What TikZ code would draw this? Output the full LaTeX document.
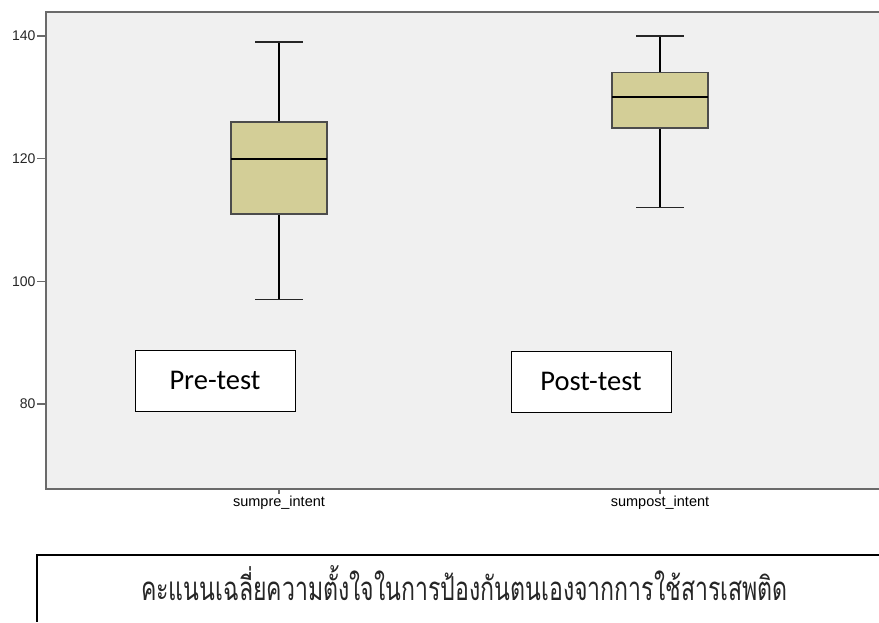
\documentclass[tikz,border=0pt]{standalone}
\usepackage{fontspec}
\setmainfont{Liberation Sans}
\newfontfamily\calfont{Carlito}
\newfontfamily\thaifont[Script=Thai]{Loma}
\usetikzlibrary{calc}
\definecolor{plotbg}{HTML}{F0F0F0}
\definecolor{boxfill}{HTML}{D3CE97}
\definecolor{framec}{HTML}{6A6A6A}
\tikzset{
  boxst/.style={fill=boxfill, draw=black!70, line width=1.3pt},
  whisk/.style={draw=black, line width=1.8pt},
  med/.style={draw=black, line width=2pt},
  capst/.style={draw=black!85, line width=1.4pt},
  labbox/.style={draw=black, fill=white, line width=1pt, minimum width=160pt, minimum height=61pt, font=\calfont\fontsize{28.5}{32}\selectfont},
  ticklab/.style={anchor=east, font=\fontsize{14}{16}\selectfont, inner sep=1pt},
  xlab/.style={anchor=north, font=\fontsize{14.5}{16}\selectfont, inner sep=1pt}
}
\begin{document}
\begin{tikzpicture}[x=1pt,y=-1pt]
\useasboundingbox (0,0) rectangle (879,622);
\fill[white] (0,0) rectangle (879,622);
% plot area
\fill[plotbg] (46,12) rectangle (879,489);
\draw[framec, line width=1.2pt] (879,12) -- (46,12) -- (46,489) -- (879,489);
% y ticks
\foreach \v/\yy in {140/36,120/158.7,100/281.3,80/404}{
  \coordinate (t\v) at (46,\yy);
  \draw[framec, line width=1.1pt] (t\v) -- ++(-9,0) node[ticklab, text=black!85] {\v};
}
% x ticks
\coordinate (xa) at (279,489);
\coordinate (xb) at (660,489);
\draw[framec, line width=1.1pt] (xa) -- ++(0,5) node[xlab, text=black] {sumpre\_intent};
\draw[framec, line width=1.1pt] (xb) -- ++(0,5) node[xlab, text=black] {sumpost\_intent};
% pre box
\coordinate (pmax) at (279,42.1);
\coordinate (pq3) at (279,121.9);
\coordinate (pmed) at (279,158.7);
\coordinate (pq1) at (279,213.9);
\coordinate (pmin) at (279,299.7);
\draw[whisk] (pmax) -- (pq3);
\draw[whisk] (pq1) -- (pmin);
\draw[capst] ($(pmax)+(-24,0)$) -- ($(pmax)+(24,0)$);
\draw[capst] ($(pmin)+(-24,0)$) -- ($(pmin)+(24,0)$);
\draw[boxst] ($(pq3)+(-48,0)$) rectangle ($(pq1)+(48,0)$);
\draw[med] ($(pmed)+(-48,0)$) -- ($(pmed)+(48,0)$);
% post box
\coordinate (qmax) at (660,36);
\coordinate (qq3) at (660,72.8);
\coordinate (qmed) at (660,97.3);
\coordinate (qq1) at (660,128);
\coordinate (qmin) at (660,207.7);
\draw[whisk] (qmax) -- (qq3);
\draw[whisk] (qq1) -- (qmin);
\draw[capst] ($(qmax)+(-24,0)$) -- ($(qmax)+(24,0)$);
\draw[capst] ($(qmin)+(-24,0)$) -- ($(qmin)+(24,0)$);
\draw[boxst] ($(qq3)+(-48,0)$) rectangle ($(qq1)+(48,0)$);
\draw[med] ($(qmed)+(-48,0)$) -- ($(qmed)+(48,0)$);
% labels
\node[labbox] (pre) at (215,380.5) {Pre-test};
\node[labbox] (post) at (591,381.5) {Post-test};
% bottom caption box
\coordinate (ctl) at (37,555);
\coordinate (ctr) at (879,555);
\coordinate (cbl) at (37,622);
\draw[black, line width=2.2pt] (ctr) -- (ctl);
\draw[black, line width=1.5pt] ($(ctl)+(0,-1)$) -- (cbl);
\node[anchor=base, inner sep=0pt, text=black!85] (cap) at (464.5,600) {\scalebox{0.7}[1]{\thaifont\fontsize{33}{36}\selectfont คะแนนเฉลี่ยความตั้งใจในการป้องกันตนเองจากการใช้สารเสพติด}};
\end{tikzpicture}
\end{document}
